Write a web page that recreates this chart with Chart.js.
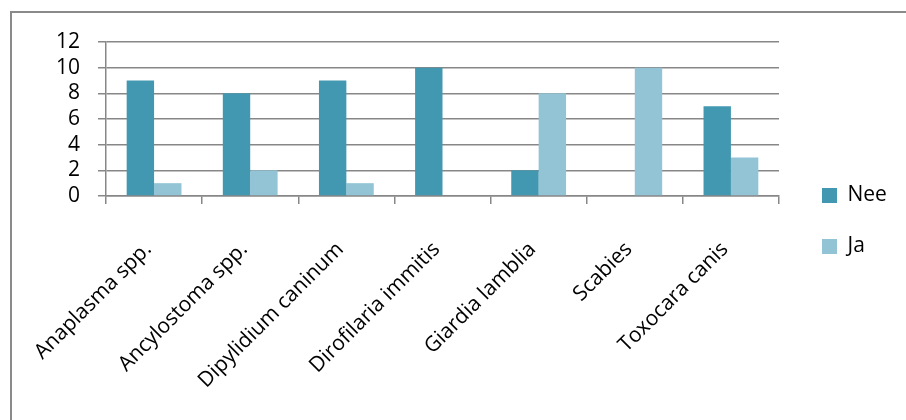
<!DOCTYPE html>
<html>
<head>
<meta charset="utf-8">
<script src="https://cdn.jsdelivr.net/npm/chart.js@4/dist/chart.umd.min.js"></script>
<style>
  html, body { margin: 0; padding: 0; background: #ffffff; }
  #wrap { width: 906px; height: 420px; position: relative; }
</style>
</head>
<body>
<div id="wrap"><canvas id="chart" width="906" height="420"></canvas></div>
<script>
// Parasites found, split by answer
const categories = [
  'Anaplasma spp.',
  'Ancylostoma spp.',
  'Dipylidium caninum',
  'Dirofilaria immitis',
  'Giardia lamblia',
  'Scabies',
  'Toxocara canis'
];
const neeValues = [9, 8, 9, 10, 2, 0, 7];
const jaValues  = [1, 2, 1, 0, 8, 10, 3];
const yTicks    = [0, 2, 4, 6, 8, 10, 12];

const seriesNames = ['Nee', 'Ja'];

const AXIS_GREY = '#878787';
const FONT = "'Open Sans', sans-serif";

// Plot area edges (pixels)
const PLOT = { left: 106, right: 779, top: 42, bottom: 196 };

// Thin grey frame around the whole chart, plus legend placement
const frameAndLegend = {
  id: 'frameAndLegend',
  beforeLayout(chart) {
    const lg = chart.legend;
    if (lg && !lg.__fixedWidth) {
      const fit = lg.fit.bind(lg);
      lg.fit = function () {
        fit();
        this.width = chart.width - PLOT.right;
      };
      lg.__fixedWidth = true;
    }
  },
  afterLayout(chart) {
    const lg = chart.legend;
    if (!lg) return;
    lg.left += 13;
    lg.right += 13;
    const h = lg.bottom - lg.top;
    lg.top = 32;
    lg.bottom = lg.top + h;
  },
  beforeDraw(chart) {
    const ctx = chart.ctx;
    ctx.save();
    ctx.strokeStyle = '#8a8a8a';
    ctx.lineWidth = 2;
    ctx.strokeRect(11, 12, chart.width + 20, chart.height + 20);
    ctx.restore();
  }
};

Chart.defaults.font.family = FONT;
Chart.defaults.color = '#000000';

new Chart(document.getElementById('chart'), {
  type: 'bar',
  data: {
    labels: categories,
    datasets: [
      {
        label: seriesNames[0],
        data: neeValues,
        backgroundColor: '#4298b0',
        borderWidth: 0
      },
      {
        label: seriesNames[1],
        data: jaValues,
        backgroundColor: '#93c4d6',
        borderWidth: 0
      }
    ]
  },
  options: {
    responsive: false,
    animation: false,
    events: [],
    datasets: {
      bar: { barPercentage: 1, categoryPercentage: 0.57 }
    },
    layout: {
      padding: { left: 12, top: PLOT.top, right: 0, bottom: 0 }
    },
    plugins: {
      tooltip: { enabled: false },
      legend: {
        position: 'right',
        align: 'center',
        labels: {
          boxWidth: 15,
          boxHeight: 15,
          padding: 30,
          font: { size: 21 },
          color: '#000000'
        }
      }
    },
    scales: {
      x: {
        grid: {
          display: true,
          offset: true,
          drawOnChartArea: false,
          drawTicks: true,
          tickLength: 8,
          color: AXIS_GREY,
          lineWidth: 1.5
        },
        border: { display: true, color: AXIS_GREY, width: 1.5 },
        ticks: {
          autoSkip: false,
          minRotation: 45,
          maxRotation: 45,
          padding: 33,
          labelOffset: -6,
          font: { size: 21 },
          color: '#000000'
        },
        afterFit(scale) {
          scale.height = scale.chart.height - PLOT.bottom;
        }
      },
      y: {
        min: 0,
        max: 12,
        afterBuildTicks(scale) {
          scale.ticks = yTicks.map(v => ({ value: v }));
        },
        grid: {
          color: AXIS_GREY,
          lineWidth: 1.5,
          drawTicks: true,
          tickLength: 8
        },
        border: { display: true, color: AXIS_GREY, width: 1.5 },
        ticks: {
          autoSkip: false,
          padding: 18,
          font: { size: 21 },
          color: '#000000'
        },
        afterFit(scale) {
          scale.width = PLOT.left - 12;
        }
      }
    }
  },
  plugins: [frameAndLegend]
});
</script>
</body>
</html>
